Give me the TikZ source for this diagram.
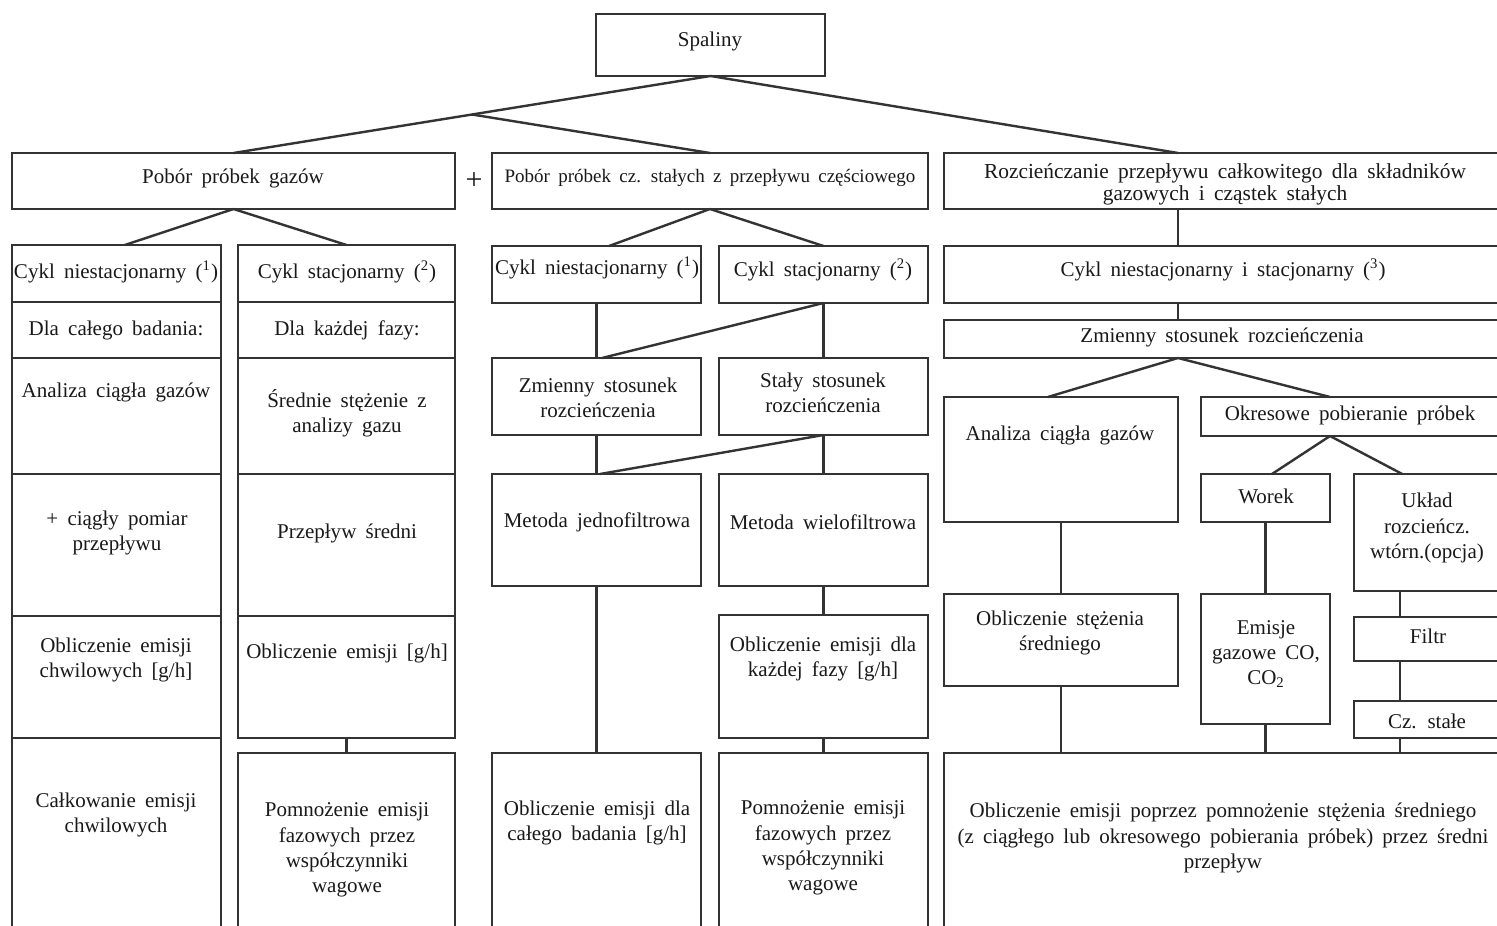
\documentclass[tikz,border=0pt]{standalone}
\usepackage{fontspec}
\setmainfont{Liberation Serif}[WordSpace=1.75]
\usetikzlibrary{calc}
\newcommand\bx[5]{\node[box, minimum width={(#4-#2)*0.5pt}, minimum height={(#5-#3)*0.5pt}] (#1) at ({(#2+#4)/2},{(#3+#5)/2}) {};}
\begin{document}
\begin{tikzpicture}[x=0.5pt,y=-0.5pt,
  box/.style={draw=black!80, line width=1.2pt, rectangle, inner sep=0pt, outer sep=0pt},
  conn/.style={draw=black!80, line width=1.2pt},
  txt/.style={align=center, inner sep=0pt, text=black!90, font=\fontsize{10.5}{12.6}\selectfont}]
\useasboundingbox (0,0) rectangle (1497,925);
\fill[white] (0,0) rectangle (1497,925);
\clip (0,0) rectangle (1497,925);
% top
\bx{spal}{596}{14}{825}{76}
\bx{gaz}{12}{153}{455}{209}
\bx{czs}{492}{153}{928}{209}
\bx{rz}{944}{153}{1500}{209}
% left column
\bx{la}{12}{245}{221}{302}
\bx{lb}{12}{302}{221}{358}
\bx{lc}{12}{358}{221}{474}
\bx{ld}{12}{474}{221}{616}
\bx{le}{12}{616}{221}{738}
\bx{lf}{12}{738}{221}{940}
% second column
\bx{ra}{238}{245}{455}{302}
\bx{rb}{238}{302}{455}{358}
\bx{rc}{238}{358}{455}{474}
\bx{rd}{238}{474}{455}{616}
\bx{re}{238}{616}{455}{738}
\bx{rf}{238}{753}{455}{940}
% middle
\bx{ca}{492}{246}{701}{303}
\bx{cb}{719}{246}{928}{303}
\bx{cc}{492}{358}{701}{435}
\bx{cd}{719}{358}{928}{435}
\bx{ce}{492}{474}{701}{586}
\bx{cf}{719}{474}{928}{586}
\bx{cg}{492}{753}{701}{940}
\bx{ch}{719}{615}{928}{738}
\bx{ci}{719}{753}{928}{940}
% right
\bx{cy}{944}{246}{1500}{303}
\bx{zm}{944}{320}{1500}{358}
\bx{an}{944}{397}{1178}{522}
\bx{ok}{1201}{397}{1500}{436}
\bx{wo}{1201}{474}{1330}{522}
\bx{uk}{1354}{474}{1500}{591}
\bx{ob}{944}{594}{1178}{686}
\bx{em}{1201}{594}{1330}{724}
\bx{fi}{1354}{617}{1500}{661}
\bx{cs}{1354}{701}{1500}{738}
\bx{bt}{944}{753}{1500}{940}
% connectors
\draw[conn] (spal.south) -- (gaz.north);
\draw[conn] (spal.south) -- (rz.north -| an.east);
\draw[conn] ($(spal.south)!0.5!(gaz.north)$) -- (czs.north);
\draw[conn] (gaz.south) -- ($(la.north west)!0.54!(la.north east)$);
\draw[conn] (gaz.south) -- (ra.north);
\draw[conn] (czs.south) -- ($(ca.north west)!0.56!(ca.north east)$);
\draw[conn] (czs.south) -- (cb.north);
\draw[conn] (ca.south) -- (cc.north);
\draw[conn] (cb.south) -- (cd.north);
\draw[conn] (cb.south) -- ($(cc.north west)!0.526!(cc.north east)$);
\draw[conn] (cc.south) -- (ce.north);
\draw[conn] (cd.south) -- (cf.north);
\draw[conn] (cd.south) -- ($(ce.north west)!0.517!(ce.north east)$);
\draw[conn] (ce.south) -- (cg.north);
\draw[conn] (cf.south) -- (ch.north);
\draw[conn] (ch.south) -- (ci.north);
\draw[conn] (re.south) -- (rf.north);
\draw[conn] (rz.south -| an.east) -- (cy.north -| an.east);
\draw[conn] (cy.south -| an.east) -- (zm.north -| an.east);
\draw[conn] (zm.south -| an.east) -- ($(an.north west)!0.444!(an.north east)$);
\draw[conn] (zm.south -| an.east) -- (ok.north -| wo.east);
\draw[conn] (ok.south -| wo.east) -- ($(wo.north west)!0.55!(wo.north east)$);
\draw[conn] (ok.south -| wo.east) -- ($(uk.north west)!0.33!(uk.north east)$);
\draw[conn] (an.south) -- (ob.north);
\draw[conn] (wo.south) -- (em.north);
\coordinate (ucx) at ($(uk.south west)!0.315!(uk.south east)$);
\draw[conn] (ucx) -- (fi.north -| ucx);
\draw[conn] (fi.south -| ucx) -- (cs.north -| ucx);
\draw[conn] (cs.south -| ucx) -- (bt.north -| ucx);
\draw[conn] (ob.south) -- (bt.north -| ob.south);
\draw[conn] (em.south) -- (bt.north -| em.south);
% texts
\node[txt] (t-spal) at (710,41) {Spaliny};
\node[txt] (t-gaz) at (233,178) {Pobór próbek gazów};
\node[txt,font=\fontsize{15}{15}\selectfont] (plus) at (474,181) {+};
\node[txt,font=\fontsize{9.5}{11}\selectfont] (t-czs) at (710,178) {Pobór próbek cz. stałych z przepływu częściowego};
\node[txt,font=\fontsize{10.7}{11}\selectfont] (t-rz) at (1225,184) {Rozcieńczanie przepływu całkowitego dla składników\\gazowych i cząstek stałych};
\node[txt] (t-la) at (116,272) {Cykl niestacjonarny (\textsuperscript{1})};
\node[txt] (t-lb) at (116,330) {Dla całego badania:};
\node[txt] (t-lc) at (116,392) {Analiza ciągła gazów};
\node[txt] (t-ld) at (117,533) {+ ciągły pomiar\\przepływu};
\node[txt] (t-le) at (116,660) {Obliczenie emisji\\chwilowych [g/h]};
\node[txt] (t-lf) at (116,815) {Całkowanie emisji\\chwilowych};
\node[txt] (t-ra) at (347,272) {Cykl stacjonarny (\textsuperscript{2})};
\node[txt] (t-rb) at (347,330) {Dla każdej fazy:};
\node[txt] (t-rc) at (347,413) {Średnie stężenie z\\analizy gazu};
\node[txt] (t-rd) at (347,533) {Przepływ średni};
\node[txt] (t-re) at (347,653) {Obliczenie emisji [g/h]};
\node[txt] (t-rf) at (347,850) {Pomnożenie emisji\\fazowych przez\\współczynniki\\wagowe};
\node[txt] (t-ca) at (597,268) {Cykl niestacjonarny (\textsuperscript{1})};
\node[txt] (t-cb) at (823,270) {Cykl stacjonarny (\textsuperscript{2})};
\node[txt] (t-cc) at (598,398) {Zmienny stosunek\\rozcieńczenia};
\node[txt] (t-cd) at (823,393) {Stały stosunek\\rozcieńczenia};
\node[txt] (t-ce) at (597,522) {Metoda jednofiltrowa};
\node[txt] (t-cf) at (823,522) {Metoda wielofiltrowa};
\node[txt] (t-cg) at (597,823) {Obliczenie emisji dla\\całego badania [g/h]};
\node[txt] (t-ch) at (823,659) {Obliczenie emisji dla\\każdej fazy [g/h]};
\node[txt] (t-ci) at (823,848) {Pomnożenie emisji\\fazowych przez\\współczynniki\\wagowe};
\node[txt] (t-cy) at (1223,270) {Cykl niestacjonarny i stacjonarny (\textsuperscript{3})};
\node[txt] (t-zm) at (1222,337) {Zmienny stosunek rozcieńczenia};
\node[txt] (t-an) at (1060,435) {Analiza ciągła gazów};
\node[txt] (t-ok) at (1350,415) {Okresowe pobieranie próbek};
\node[txt] (t-wo) at (1266,496) {Worek};
\node[txt] (t-uk) at (1427,528) {Układ\\rozcieńcz.\\wtórn.(opcja)};
\node[txt] (t-ob) at (1060,633) {Obliczenie stężenia\\średniego};
\node[txt] (t-em) at (1266,654) {Emisje\\gazowe CO,\\CO\textsubscript{2}};
\node[txt] (t-fi) at (1428,636) {Filtr};
\node[txt] (t-cs) at (1427,721) {Cz. stałe};
\node[txt] (t-bt) at (1223,838) {Obliczenie emisji poprzez pomnożenie stężenia średniego\\(z ciągłego lub okresowego pobierania próbek) przez średni\\przepływ};
\end{tikzpicture}
\end{document}
